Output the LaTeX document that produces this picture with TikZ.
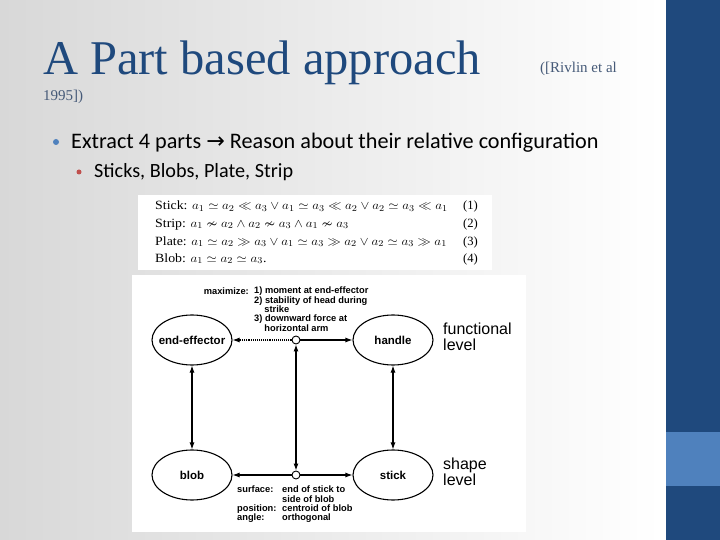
\documentclass[tikz,border=0pt]{standalone}
\usepackage{fontspec}
\usepackage{amssymb}
\usepackage{graphicx}
\setmainfont{Liberation Serif}
\newfontfamily\bodyfont{Carlito}
\newfontfamily\figfont{Liberation Sans}
\newfontfamily\symfont{DejaVu Sans}
\usepackage{tikz}
\usetikzlibrary{arrows.meta,shapes.geometric}
\definecolor{slate}{RGB}{31,73,125}
\definecolor{sky}{RGB}{79,129,189}
\definecolor{rose}{RGB}{192,80,77}
\definecolor{mist}{RGB}{216,216,216}
\definecolor{citeblue}{RGB}{70,90,120}
\newcommand{\wideeq}[1]{\scalebox{1.1}[1]{#1}}

\begin{document}
\begin{tikzpicture}[x=1pt,y=-1pt,
        txt/.style={inner sep=0pt,anchor=base west},
        eq/.style={inner sep=0pt,anchor=base west,font=\fontsize{12.6}{14}\selectfont},
        part/.style={ellipse,draw,line width=1.1pt,minimum width=80pt,minimum height=50pt,inner ysep=0pt,inner xsep=-5pt,
          font=\figfont\bfseries\fontsize{11.5}{12}\selectfont},
        joint/.style={circle,draw,line width=0.9pt,fill=white,inner sep=0pt,minimum size=8pt},
        link/.style={line width=1.1pt,-{Latex[length=7pt,width=5pt]}},
        twoway/.style={line width=1.1pt,{Latex[length=7pt,width=5pt]}-{Latex[length=7pt,width=5pt]}},
        note/.style={inner sep=0pt,align=left,anchor=north west,font=\figfont\bfseries\fontsize{9.3}{9.3}\selectfont}]
        \useasboundingbox (0,0) rectangle (720,540);
        \shade[left color=mist,right color=white] (0,0) rectangle (662,540);
        \fill[white] (660,0) rectangle (666,540);
        \fill[slate] (666,0) rectangle (720,540);
        \fill[sky] (666,432) rectangle (720,486);
        \node[txt,text=slate,font=\fontsize{48.5}{50}\selectfont] (title) at (43,75) {A Part based approach};
        \node[txt,text=citeblue,font=\fontsize{15}{16}\selectfont] (cite) at (540,73) {([Rivlin et al};
        \node[txt,text=citeblue,font=\fontsize{15}{16}\selectfont] (year) at (43,101) {1995])};
        \node[circle,fill=sky,inner sep=0pt,minimum size=6pt] (dotone) at (56,142) {};
        \node[txt,font=\bodyfont\fontsize{22.2}{24}\selectfont] (point) at (71,149) {Extract 4 parts {\symfont →} Reason about their relative configuration};
        \node[circle,fill=rose,inner sep=0pt,minimum size=5pt] (dottwo) at (79,172) {};
        \node[txt,font=\bodyfont\fontsize{20.2}{22}\selectfont] (subpoint) at (94,178) {Sticks, Blobs, Plate, Strip};
        \fill[white] (138,195) rectangle (492,270);
        \node[eq] (eqstick) at (155,210) {\wideeq{Stick: $a_1\simeq a_2\ll a_3\vee a_1\simeq a_3\ll a_2\vee a_2\simeq a_3\ll a_1$}};
        \node[eq] (eqstrip) at (155,227) {\wideeq{Strip: $a_1\nsim a_2\wedge a_2\nsim a_3\wedge a_1\nsim a_3$}};
        \node[eq] (eqplate) at (155,245) {\wideeq{Plate: $a_1\simeq a_2\gg a_3\vee a_1\simeq a_3\gg a_2\vee a_2\simeq a_3\gg a_1$}};
        \node[eq] (eqblob) at (155,262) {\wideeq{Blob: $a_1\simeq a_2\simeq a_3$.}};
        \node[eq,anchor=base east] (numone) at (478,210) {(1)};
        \node[eq,anchor=base east] (numtwo) at (478,227) {(2)};
        \node[eq,anchor=base east] (numthree) at (478,245) {(3)};
        \node[eq,anchor=base east] (numfour) at (478,262) {(4)};
        \fill[white] (132,275) rectangle (526,532);
        \node[part] (effector) at (192,340) {end-effector};
        \node[part] (handle) at (393,340) {handle};
        \node[part] (blob) at (192,475) {blob};
        \node[part] (stick) at (393,475) {stick};
        \node[joint] (jtop) at (296,340) {};
        \node[joint] (jbot) at (296,475) {};
        \draw[link,densely dotted] (jtop) -- (effector);
        \draw[link] (jtop) -- (handle);
        \draw[twoway] (effector) -- (blob);
        \draw[twoway] (jtop) -- (jbot);
        \draw[twoway] (handle) -- (stick);
        \draw[link] (jbot) -- (blob);
        \draw[link] (jbot) -- (stick);
        \node[note,anchor=base east] (maxlabel) at (249,294) {maximize:};
        \node[note] (goals) at (254,287) {1) moment at end-effector\\2) stability of head during\\\hspace*{1.1em}strike\\3) downward force at\\\hspace*{1.1em}horizontal arm};
        \node[txt,align=left,anchor=north west,font=\figfont\fontsize{16}{15.5}\selectfont] (funlevel) at (443,323) {functional\\level};
        \node[txt,align=left,anchor=north west,font=\figfont\fontsize{16}{15.5}\selectfont] (shapelevel) at (443,458) {shape\\level};
        \node[note] (keys) at (237,486) {surface:\\\mbox{}\\position:\\angle:};
        \node[note] (vals) at (282,486) {end of stick to\\side of blob\\centroid of blob\\orthogonal};
      \end{tikzpicture}
\end{document}
